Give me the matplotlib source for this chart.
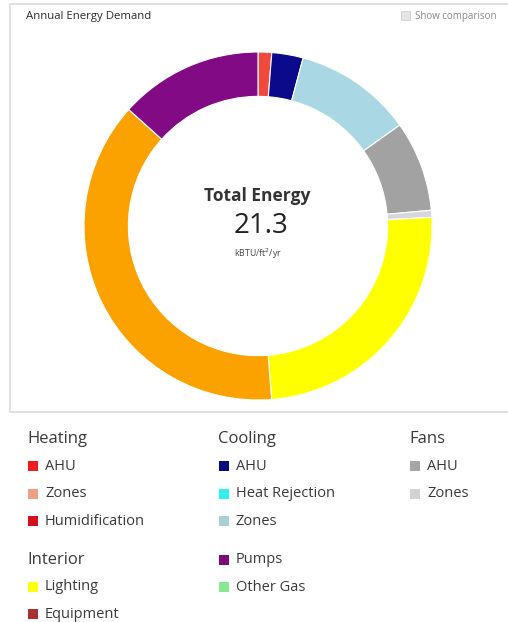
import matplotlib
matplotlib.use("Agg")
import matplotlib.pyplot as plt
import matplotlib.patches as patches

plt.rcParams['font.family'] = ['Open Sans', 'DejaVu Sans']

# energy use by end use, kBTU/ft2/yr, going clockwise from 12 o'clock
ring_labels = ["Heating AHU", "Cooling AHU", "Cooling Zones", "Fans AHU",
               "Fans Zones", "Lighting", "Equipment", "Pumps"]
ring_values = [0.27, 0.62, 2.34, 1.79, 0.14, 5.23, 8.08, 2.84]
ring_colors = ["#ef4a3c", "#0b0a8a", "#a9d8e4", "#a2a2a2",
               "#d6d6e0", "#ffff00", "#fba100", "#820a84"]

total_energy = 21.3

# legend groups: (header, [(item, colour), ...])
col1_groups = [("Heating", [("AHU", "#ee1c1c"), ("Zones", "#efa084"), ("Humidification", "#d3101c")]),
               ("Interior", [("Lighting", "#ffff10"), ("Equipment", "#a83030")])]
col2_groups = [("Cooling", [("AHU", "#0a0a80"), ("Heat Rejection", "#33f0f0"), ("Zones", "#a8d0d8")]),
               (None, [("Pumps", "#800a80"), ("Other Gas", "#88e890")])]
col3_groups = [("Fans", [("AHU", "#a6a6a6"), ("Zones", "#d2d2d2")])]

W, H = 508, 622
fig = plt.figure(figsize=(W / 100, H / 100), dpi=100)

# background axes in pixel units (y grows downward)
bg = fig.add_axes([0, 0, 1, 1])
bg.set_xlim(0, W)
bg.set_ylim(H, 0)
bg.axis('off')

# panel frame around the chart
bg.add_patch(patches.Rectangle((10, 4), W - 9, 408, fill=False, ec="#dcdcdc", lw=1.2))
bg.text(26, 16, "Annual Energy Demand", fontsize=8.2, color="#2a2a2a", va='center')
bg.add_patch(patches.Rectangle((401, 11), 9, 9, fc="#e4e4e4", ec="#d0d0d0", lw=0.6))
bg.text(415, 16, "Show comparison", fontsize=7.0, color="#888888", va='center')

# donut
cx, cy, R = 258, 226, 174
pie_ax = fig.add_axes([(cx - R) / W, (H - cy - R) / H, 2 * R / W, 2 * R / H])
pie_ax.pie(ring_values, colors=ring_colors, startangle=90, counterclock=False,
           radius=1.0, wedgeprops=dict(width=0.255, edgecolor="white", linewidth=0.8))
pie_ax.set_xlim(-1, 1)
pie_ax.set_ylim(-1, 1)
pie_ax.axis('off')

bg.text(cx - 1, 196, "Total Energy", fontsize=12.5, fontweight='bold', color="#333333",
        ha='center', va='center')
bg.text(cx + 3, 226, f"{total_energy}", fontsize=20, color="#222222", ha='center', va='center')
bg.text(cx, 254, "kBTU/ft$^2$/yr", fontsize=6.3, color="#444444", ha='center', va='center')


def draw_column(x, groups, y0):
    y = y0
    for header, items in groups:
        if header is not None:
            bg.text(x, y, header, fontsize=12, color="#3a3a3a", va='center')
            y += 27
        for name, colour in items:
            bg.add_patch(patches.Rectangle((x + 1, y - 5), 10, 10, fc=colour, ec='none'))
            bg.text(x + 18, y, name, fontsize=10.5, color="#3a3a3a", va='center')
            y += 27.6
        y += 11


draw_column(27, col1_groups, 439)
draw_column(218, col2_groups, 439)
draw_column(409, col3_groups, 439)

fig.savefig("out.png", dpi=100)
